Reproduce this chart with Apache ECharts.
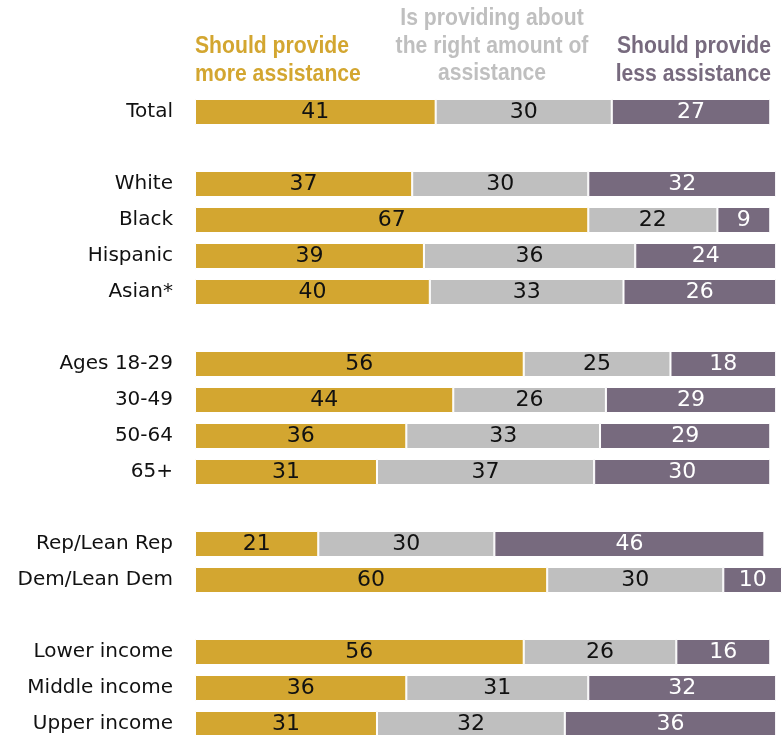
<!DOCTYPE html>
<html><head><meta charset="utf-8">
<script src="https://cdn.jsdelivr.net/npm/echarts@6/dist/echarts.min.js"></script>
<style>html,body{margin:0;padding:0;background:#fff}#c{width:782px;height:735px}</style>
</head><body><div id="c"></div>
<script>
const categories = ['Total','', 'White','Black','Hispanic','Asian*','', 'Ages 18-29','30-49','50-64','65+','', 'Rep/Lean Rep','Dem/Lean Dem','', 'Lower income','Middle income','Upper income'];
const moreAssistance  = [41,null,37,67,39,40,null,56,44,36,31,null,21,60,null,56,36,31];
const rightAmount     = [30,null,30,22,36,33,null,25,26,33,37,null,30,30,null,26,31,32];
const lessAssistance  = [27,null,32,9,24,26,null,18,29,29,30,null,46,10,null,16,32,36];
const seriesNames = ['Should provide more assistance','Is providing about the right amount of assistance','Should provide less assistance'];

const FONT = "'DejaVu Sans',sans-serif";
const HFONT = "'Liberation Sans',Arial,sans-serif";
const colors = ['#D3A630','#BFBFBF','#776A7E'];
const labelColors = ['#111','#111','#fff'];
const vals = [moreAssistance, rightAmount, lessAssistance];

const chart = echarts.init(document.getElementById('c'));
chart.setOption({
  animation:false,
  grid:{left:195,top:94,width:587,height:648,containLabel:false,outerBoundsMode:'none'},
  xAxis:{type:'value',min:0,max:100,show:false},
  yAxis:{type:'category',data:categories,inverse:true,
    axisLine:{show:false},axisTick:{show:false},
    axisLabel:{color:'#111',fontSize:20,fontFamily:FONT,margin:22}},
  series: vals.map((v,i)=>({
    name:seriesNames[i],type:'bar',stack:'s',data:v,barWidth:26,
    itemStyle:{color:colors[i],borderColor:'#fff',borderWidth:1},
    label:{show:true,position:'inside',color:labelColors[i],fontSize:22,fontFamily:FONT,
      formatter:p=>p.value==null?'':p.value}
  })),
  graphic:[
    {type:'text',x:195,y:33,scaleX:0.92,style:{text:'Should provide\nmore assistance',fill:colors[0],font:"bold 23px "+HFONT,lineHeight:27.5}},
    {type:'text',x:492,y:5,scaleX:0.92,style:{text:'Is providing about\nthe right amount of\nassistance',fill:colors[1],font:"bold 23px "+HFONT,lineHeight:27.5,align:'center'}},
    {type:'text',x:771,y:33,scaleX:0.92,style:{text:'Should provide\nless assistance',fill:colors[2],font:"bold 23px "+HFONT,lineHeight:27.5,align:'right'}}
  ]
});
</script></body></html>
